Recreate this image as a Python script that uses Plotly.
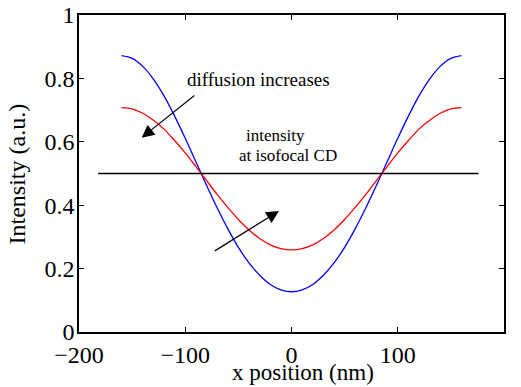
import plotly.graph_objects as go

# x positions (nm)
x_pos = [-160, -150, -140, -130, -120, -110, -100, -90, -80, -70, -60, -50, -40, -30, -20, -10,
         0, 10, 20, 30, 40, 50, 60, 70, 80, 90, 100, 110, 120, 130, 140, 150, 160]

# low-diffusion intensity (blue)
blue_int = [0.872, 0.863, 0.838, 0.798, 0.745, 0.681, 0.611, 0.537, 0.463, 0.392, 0.326, 0.267,
            0.218, 0.179, 0.150, 0.133, 0.127, 0.133, 0.150, 0.179, 0.218, 0.267, 0.326, 0.392,
            0.463, 0.537, 0.611, 0.681, 0.745, 0.798, 0.838, 0.863, 0.872]

# high-diffusion intensity (red)
red_int = [0.708, 0.704, 0.690, 0.668, 0.640, 0.604, 0.565, 0.522, 0.478, 0.434, 0.393, 0.355,
           0.322, 0.295, 0.275, 0.263, 0.259, 0.263, 0.275, 0.295, 0.322, 0.355, 0.393, 0.434,
           0.478, 0.522, 0.565, 0.604, 0.640, 0.668, 0.690, 0.704, 0.708]

# isofocal threshold line
iso_x = [-182, 176]
iso_y = [0.5, 0.5]

x_ticks = [-200, -100, 0, 100, 200]
x_tick_labels = ["\u2212200", "\u2212100", "0", "100", "200"]
y_ticks = [0, 0.2, 0.4, 0.6, 0.8, 1]
y_tick_labels = ["0", "0.2", "0.4", "0.6", "0.8", "1"]

# arrows: (tail_x, tail_y, head_x, head_y)
arrow_diff = (-90, 0.750, -141, 0.613)
arrow_up = (-73.6, 0.253, -11.8, 0.382)

FONT = "Liberation Serif"

fig = go.Figure()
fig.add_trace(go.Scatter(x=x_pos, y=blue_int, mode="lines", line=dict(color="#0000ff", width=1.3, shape="spline"),
                         showlegend=False, hoverinfo="skip"))
fig.add_trace(go.Scatter(x=x_pos, y=red_int, mode="lines", line=dict(color="#ff0000", width=1.3, shape="spline"),
                         showlegend=False, hoverinfo="skip"))
fig.add_trace(go.Scatter(x=iso_x, y=iso_y, mode="lines", line=dict(color="#000000", width=1.3),
                         showlegend=False, hoverinfo="skip"))

for (tx, ty, hx, hy) in [arrow_diff, arrow_up]:
    fig.add_annotation(x=hx, y=hy, ax=tx, ay=ty, xref="x", yref="y", axref="x", ayref="y",
                       text="", showarrow=True, arrowhead=2, arrowsize=2.1, arrowwidth=1.2,
                       arrowcolor="#000000")

fig.add_annotation(x=-31.5, y=0.795, xref="x", yref="y", text="diffusion increases", showarrow=False,
                   font=dict(family=FONT, size=19, color="#000"))
fig.add_annotation(x=-15.5, y=0.621, xref="x", yref="y", text="intensity", showarrow=False,
                   font=dict(family=FONT, size=17, color="#000"))
fig.add_annotation(x=-3.3, y=0.556, xref="x", yref="y", text="at isofocal CD", showarrow=False,
                   font=dict(family=FONT, size=17, color="#000"))

# axis titles
fig.add_annotation(x=0.526, y=-0.1735, xref="paper", yref="paper", xanchor="center", yanchor="bottom",
                   text="x position (nm)", showarrow=False, font=dict(family=FONT, size=23, color="#000"))
fig.add_annotation(x=-0.146, y=0.5, xref="paper", yref="paper", xanchor="center", yanchor="middle",
                   text="Intensity (a.u.)", textangle=-90, showarrow=False,
                   font=dict(family=FONT, size=24, color="#000"))

axis_common = dict(showgrid=False, zeroline=False, showline=True, linecolor="#000", linewidth=1.5,
                   mirror="ticks", ticks="inside", ticklen=5, tickwidth=1, tickcolor="#000",
                   automargin=False, tickfont=dict(family=FONT, size=24, color="#000"))

fig.update_xaxes(range=[-200, 200], tickvals=x_ticks, ticktext=x_tick_labels, ticklabelstandoff=0,
                 **axis_common)
fig.update_yaxes(range=[0, 1], tickvals=y_ticks, ticktext=y_tick_labels, ticklabelstandoff=-2,
                 **axis_common)

fig.update_layout(width=521, height=387, margin=dict(l=79, r=17, t=15, b=55),
                  paper_bgcolor="white", plot_bgcolor="white")

fig.write_html("out.html")
